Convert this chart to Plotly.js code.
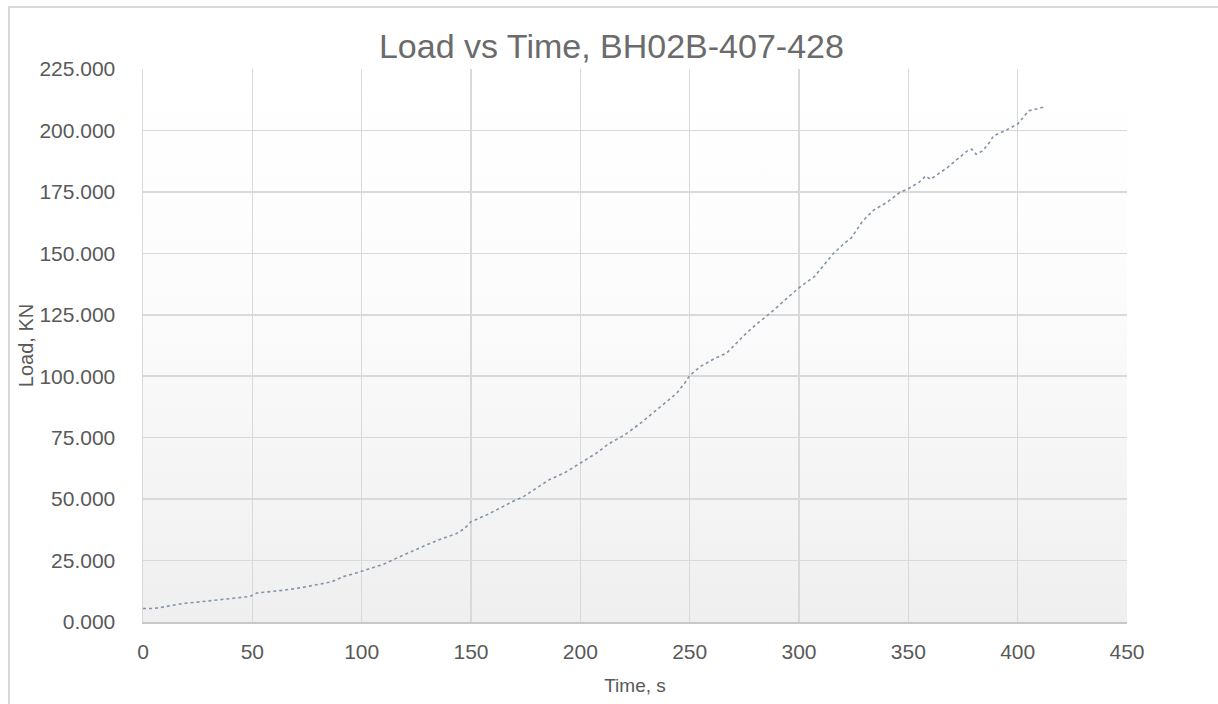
<!DOCTYPE html>
<html>
<head>
<meta charset="utf-8">
<script src="https://cdn.plot.ly/plotly-3.0.1.min.js"></script>
<style>
  html, body { margin: 0; padding: 0; background: #ffffff; }
  #wrap { position: relative; width: 1218px; height: 704px; overflow: hidden; }
  #bg { position: absolute; left: 143px; top: 69px; width: 984px; height: 553px;
        background: linear-gradient(to bottom, #ffffff 0%, #fcfcfc 40%, #efefef 100%); }
  #chart { position: absolute; left: 0; top: 0; width: 1218px; height: 704px; }
  #frame { position: absolute; left: 8px; top: 6px; width: 1220px; height: 710px;
           border-top: 2px solid #d9d9d9; border-left: 2px solid #d9d9d9; pointer-events: none; }
</style>
</head>
<body>
<div id="wrap">
  <div id="bg"></div>
  <div id="chart"></div>
  <div id="frame"></div>
</div>
<script>
// Time (s)
const timeS = [0, 5, 8, 13, 18, 25, 33, 40, 45, 49, 52, 58, 64, 72, 79, 86, 88, 91, 97, 103,
  110, 116, 123, 130, 137, 143, 147, 150, 157, 163, 169, 174, 180, 186, 193, 200, 207, 213, 220, 227,
  233, 239, 244, 248, 250, 255, 261, 267, 272, 276, 281, 287, 293, 300, 307, 311, 316, 320, 324, 329,
  334, 340, 346, 350, 355, 358, 360, 364, 368, 372, 377, 379, 381, 384, 387, 389, 394, 400, 403, 405,
  409, 413];
// Load (KN)
const loadKN = [5.5, 5.5, 5.9, 6.7, 7.5, 8.1, 8.8, 9.4, 9.9, 10.4, 11.8, 12.3, 12.9, 13.9, 15.0, 16.3, 17.0, 18.3, 19.8, 21.4,
  23.5, 26.0, 28.8, 31.5, 34.0, 35.8, 38.0, 40.8, 43.5, 46.3, 49.0, 51.0, 54.5, 58.0, 60.8, 64.6, 68.5, 72.5, 76.0, 80.5,
  85.0, 89.5, 93.0, 97.5, 100.3, 104.0, 107.0, 109.5, 114.0, 117.6, 121.5, 125.8, 130.5, 136.0, 140.5, 145.0, 150.2, 153.5, 156.4, 163.0,
  167.5, 170.6, 174.7, 176.3, 179.0, 181.5, 180.1, 182.5, 185.0, 188.0, 191.7, 192.4, 190.3, 191.7, 195.0, 197.8, 199.8, 202.6, 206.0, 208.0,
  208.8, 209.8];

const chartTitle = "Load vs Time, BH02B-407-428";
const xTitle = "Time, s";
const yTitle = "Load, KN";
const yTickVals = [0, 25, 50, 75, 100, 125, 150, 175, 200, 225];
const xTickVals = [0, 50, 100, 150, 200, 250, 300, 350, 400, 450];

const FONT = '"Liberation Sans", Arial, sans-serif';
const TXT = '#595959';

const trace = {
  x: timeS, y: loadKN, type: 'scatter', mode: 'lines',
  line: { color: '#8394a8', width: 1.6, dash: 'dot' },
  hoverinfo: 'x+y'
};

const layout = {
  width: 1218, height: 704,
  margin: { l: 143, r: 91, t: 69, b: 82 },
  paper_bgcolor: 'rgba(0,0,0,0)',
  plot_bgcolor: 'rgba(0,0,0,0)',
  showlegend: false,
  font: { family: FONT, color: TXT },
  title: { text: chartTitle, font: { family: FONT, size: 34, color: '#6b6b6b' },
           x: 0.502, xanchor: 'center', y: 0.934, yanchor: 'middle' },
  xaxis: {
    range: [0, 450], tickvals: xTickVals, ticktext: xTickVals.map(String),
    showgrid: true, gridcolor: '#d9d9d9', gridwidth: 1.5,
    showline: true, linecolor: '#c8c8c8', linewidth: 2, mirror: false,
    zeroline: false, ticks: '', ticklabelstandoff: 10,
    tickfont: { family: FONT, size: 21, color: TXT },
    title: { text: xTitle, font: { family: FONT, size: 19, color: TXT }, standoff: 16 }
  },
  yaxis: {
    range: [0, 225], tickvals: yTickVals, ticktext: yTickVals.map(v => v.toFixed(3)),
    showgrid: true, gridcolor: '#d9d9d9', gridwidth: 1.5,
    showline: true, linecolor: '#d9d9d9', linewidth: 1.5,
    zeroline: false, ticks: '', ticklabelstandoff: 22,
    tickfont: { family: FONT, size: 21, color: TXT },
    title: { text: yTitle, font: { family: FONT, size: 20, color: TXT }, standoff: 0 }
  }
};

Plotly.newPlot('chart', [trace], layout, { displayModeBar: false, staticPlot: true });
</script>
</body>
</html>
